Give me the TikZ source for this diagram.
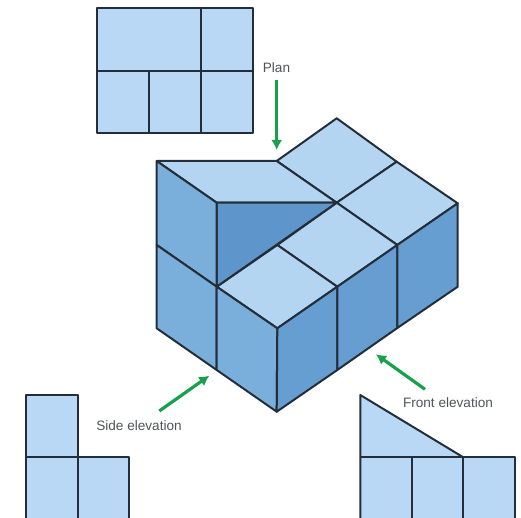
\documentclass[tikz,border=0pt]{standalone}
\usepackage{xcolor}
\usepackage{fontspec}
\setmainfont{Liberation Sans}
\definecolor{topColor}{RGB}{180,213,241}
\definecolor{viewColor}{RGB}{184,216,245}
\definecolor{leftColor}{RGB}{122,175,220}
\definecolor{rightColor}{RGB}{102,158,210}
\definecolor{wedgeColor}{RGB}{94,150,204}
\definecolor{edgeColor}{RGB}{36,46,58}
\definecolor{arrowColor}{RGB}{24,160,78}
\definecolor{labelColor}{RGB}{80,84,88}
\usetikzlibrary{arrows.meta}
\tikzset{
	edge/.style={draw=edgeColor,line width=2pt,line join=round},
	pointer/.style={draw=arrowColor,line width=3.2pt,-{Latex[length=10pt,width=11pt]}},
	caption/.style={text=labelColor,font=\fontsize{13.6}{15}\selectfont,inner sep=0pt},
}
\begin{document}
\begin{tikzpicture}[x=1pt,y=-1pt]
\useasboundingbox (0,0) rectangle (521,518);
% corners of the block
\foreach \n/\x/\y in {a/336.7/118.3,b/396.7/161.7,c/457.7/203.3,d/276.7/161,e/336.7/202.7,f/397.3/245,
	g/156.7/161,h/216.7/202.7,i/277.3/245,j/337.3/286.7,k/216.7/286.7,l/277.3/328.3,
	m/156.7/245,n/156.7/328.3,o/216.7/370,p/276.7/411.7,q/337.3/370,r/397.3/328,s/457.7/286.7} {
	\coordinate (\n) at (\x,\y);
}
% top faces
\foreach \p/\q/\r/\s in {d/a/b/e,e/b/c/f,i/e/f/j,k/i/j/l,g/d/e/h} {
	\draw[edge,fill=topColor] (\p) -- (\q) -- (\r) -- (\s) -- cycle;
}
\draw[edge,fill=wedgeColor] (h) -- (e) -- (k) -- cycle;
% left faces
\foreach \p/\q/\r/\s in {g/h/k/m,m/k/o/n,k/l/p/o} {
	\draw[edge,fill=leftColor] (\p) -- (\q) -- (\r) -- (\s) -- cycle;
}
% right faces
\foreach \p/\q/\r/\s in {l/j/q/p,j/f/r/q,f/c/s/r} {
	\draw[edge,fill=rightColor] (\p) -- (\q) -- (\r) -- (\s) -- cycle;
}
% plan
\draw[edge,fill=viewColor] (97.3,8.3) rectangle (253.3,132.7);
\draw[edge] (97.3,70.7) -- (253.3,70.7);
\draw[edge] (201,8.3) -- (201,132.7);
\draw[edge] (149.3,70.7) -- (149.3,132.7);
% side elevation
\fill[viewColor] (26,395) -- (78,395) -- (78,457.3) -- (129.3,457.3) -- (129.3,518) -- (26,518) -- cycle;
\draw[edge] (26,518) -- (26,395) -- (78,395) -- (78,518);
\draw[edge] (26,457.3) -- (129.3,457.3) -- (129.3,518);
% front elevation
\fill[viewColor] (360.3,395) -- (463.3,457.3) -- (515,457.3) -- (515,518) -- (360.3,518) -- cycle;
\draw[edge] (360.3,518) -- (360.3,395) -- (463.3,457.3);
\draw[edge] (360.3,457.3) -- (515,457.3) -- (515,518);
\draw[edge] (412.3,457.3) -- (412.3,518);
\draw[edge] (463.3,457.3) -- (463.3,518);
% labels and arrows
\node[caption] (planLabel) at (276.5,68) {Plan};
\node[caption] (sideLabel) at (139,425.5) {Side elevation};
\node[caption] (frontLabel) at (448,402.5) {Front elevation};
\coordinate (planFrom) at (276.7,80);
\coordinate (planTo) at (276.7,150);
\coordinate (sideFrom) at (159.3,411);
\coordinate (sideTo) at (209.3,375.7);
\coordinate (frontFrom) at (425,389.3);
\coordinate (frontTo) at (376,354.3);
\draw[pointer] (planFrom) -- (planTo);
\draw[pointer] (sideFrom) -- (sideTo);
\draw[pointer] (frontFrom) -- (frontTo);
\end{tikzpicture}
\end{document}
